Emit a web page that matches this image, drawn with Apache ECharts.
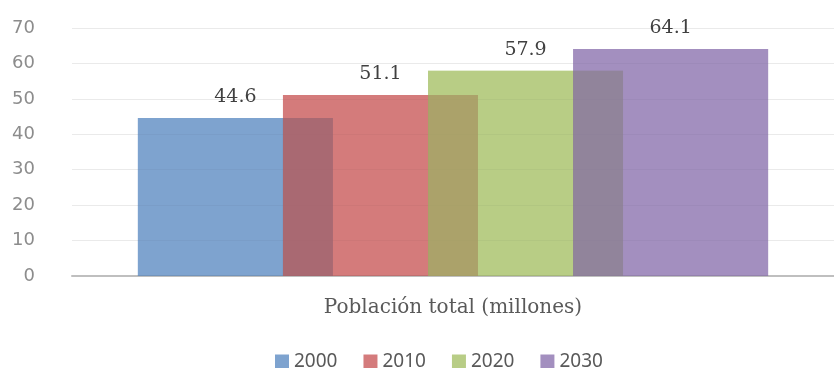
<!DOCTYPE html>
<html>
<head>
<meta charset="utf-8">
<script src="https://cdn.jsdelivr.net/npm/echarts@6/dist/echarts.min.js"></script>
<style>
  html, body { margin: 0; padding: 0; background: #fff; }
  #chart { width: 834px; height: 368px; }
</style>
</head>
<body>
<div id="chart"></div>
<script>
const categories = ['Población total (millones)']
const years = ['2000', '2010', '2020', '2030']
const values = [44.6, 51.1, 57.9, 64.1]
const colors = ['#7EA3CF', '#D47B7C', '#B8CD86', '#A38FBF']
const yTicks = [0, 10, 20, 30, 40, 50, 60, 70]

const chart = echarts.init(document.getElementById('chart'))

// each year is drawn twice: a multiply pass (darkens where bars overlap)
// and a semi-transparent normal pass on top, like the original overlap look
const series = []
years.forEach((year, i) => {
  series.push({
    name: year,
    type: 'bar',
    xAxisIndex: 0,
    blendMode: 'multiply',
    barWidth: 195,
    barGap: '-25.6%',
    itemStyle: { color: colors[i] },
    label: { show: false },
    data: [values[i]]
  })
  series.push({
    name: year,
    type: 'bar',
    xAxisIndex: 1,
    barWidth: 195,
    barGap: '-25.6%',
    itemStyle: { color: colors[i], opacity: 0.6 },
    label: {
      show: true,
      position: 'top',
      distance: 11,
      opacity: 1,
      fontFamily: 'DejaVu Serif',
      fontSize: 19,
      color: '#404040'
    },
    data: [values[i]]
  })
})

const option = {
  animation: false,
  backgroundColor: 'transparent',
  grid: {
    left: 72,
    right: 0,
    top: 28,
    bottom: 92
  },
  legend: {
    data: years,
    top: 347,
    left: 270,
    icon: 'rect',
    itemWidth: 14,
    itemHeight: 14,
    itemGap: 26,
    textStyle: {
      fontFamily: 'Noto Sans',
      fontSize: 19,
      color: '#595959'
    }
  },
  xAxis: [
    {
      type: 'category',
      data: categories,
      axisLine: { lineStyle: { color: '#BFBFBF', width: 2 } },
      axisTick: { show: false },
      axisLabel: {
        margin: 22,
        fontFamily: 'DejaVu Serif',
        fontSize: 20,
        color: '#595959'
      }
    },
    {
      type: 'category',
      data: categories,
      show: false
    }
  ],
  yAxis: {
    type: 'value',
    min: yTicks[0],
    max: yTicks[yTicks.length - 1],
    interval: 10,
    axisLine: { show: false },
    axisTick: { show: false },
    axisLabel: {
      margin: 37,
      fontFamily: 'DejaVu Sans',
      fontSize: 18,
      color: '#8C8C8C'
    },
    splitLine: {
      lineStyle: { color: '#EAEAEA' }
    }
  },
  series: series
}

chart.setOption(option)
</script>
</body>
</html>
